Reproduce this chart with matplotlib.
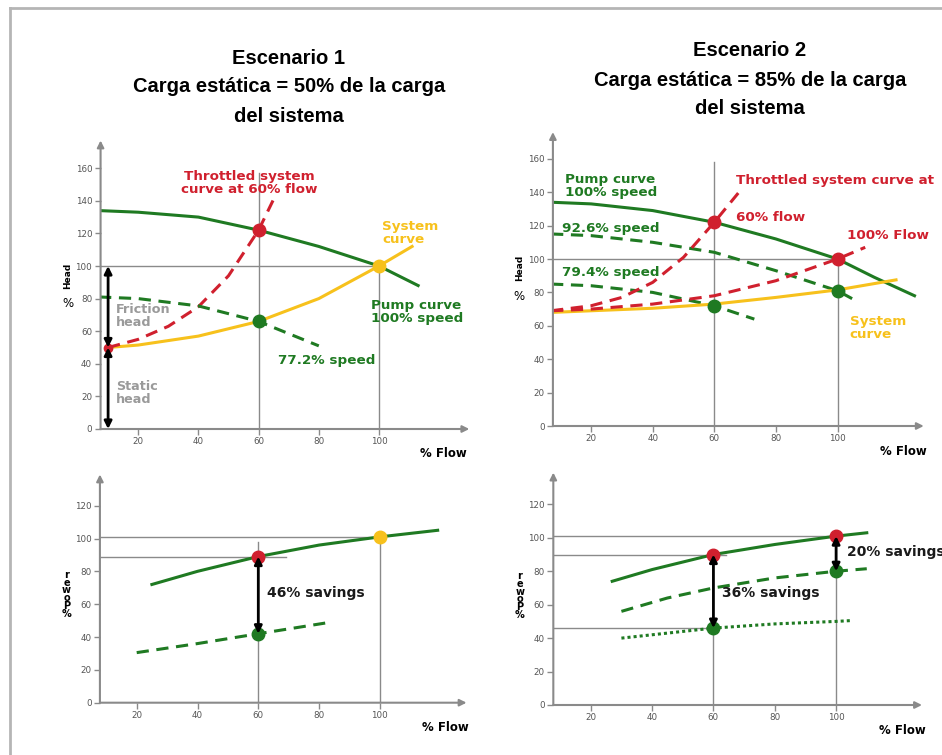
import matplotlib
matplotlib.use("Agg")
import matplotlib.pyplot as plt
from matplotlib.lines import Line2D

# ---- data ----
# Escenario 1, head vs flow
s1_pump_flow = [7, 20, 40, 60, 80, 100, 113]
s1_pump_head = [134, 133, 130, 122, 112, 100, 88]
s1_sys_flow = [10, 20, 40, 60, 80, 100, 111]
s1_sys_head = [50, 51.5, 57, 66, 80, 100, 112]
s1_thr_flow = [10, 20, 30, 40, 50, 60, 65]
s1_thr_head = [50, 55, 63, 75, 94, 122, 141]
s1_slow_flow = [7, 20, 40, 60, 80]
s1_slow_head = [81, 80, 75.5, 66, 51]

# Escenario 1, power vs flow
s1_pw_flow = [25, 40, 60, 80, 100, 119]
s1_pw_full = [72, 80, 89, 96, 101, 105]
s1_pw_slow_flow = [20, 40, 60, 82]
s1_pw_slow = [30.5, 36, 42, 48.5]

# Escenario 2, head vs flow
s2_pump_flow = [7, 20, 40, 60, 80, 100, 112, 125]
s2_pump_head = [134, 133, 129, 122, 112, 100, 89, 78]
s2_926_flow = [7, 20, 40, 60, 80, 100, 106]
s2_926_head = [115, 114, 110, 104, 93, 81, 75]
s2_794_flow = [7, 20, 40, 60, 73]
s2_794_head = [85, 84, 80, 72, 64]
s2_sys_flow = [7, 20, 40, 60, 80, 100, 119]
s2_sys_head = [68, 69, 70.5, 73, 77, 81.5, 87.5]
s2_thr60_flow = [7, 20, 30, 40, 50, 60, 68]
s2_thr60_head = [69, 72, 77, 86, 101, 122, 140]
s2_thr100_flow = [7, 20, 40, 60, 80, 100, 109]
s2_thr100_head = [69, 70, 73, 78, 87, 100, 107]

# Escenario 2, power vs flow
s2_pw_flow = [27, 40, 60, 80, 100, 110]
s2_pw_full = [74, 81, 90, 96, 101, 103]
s2_pw_926_flow = [30, 45, 60, 80, 100, 110]
s2_pw_926 = [56, 64, 70, 76, 80, 81.5]
s2_pw_794_flow = [30, 45, 60, 80, 100, 105]
s2_pw_794 = [40, 43, 46, 48.5, 50, 50.5]

x_ticks = [20, 40, 60, 80, 100]
head_ticks = [0, 20, 40, 60, 80, 100, 120, 140, 160]
power_ticks = [0, 20, 40, 60, 80, 100, 120]

title_lines_1 = ["Escenario 1", "Carga estática = 50% de la carga", "del sistema"]
title_lines_2 = ["Escenario 2", "Carga estática = 85% de la carga", "del sistema"]

GREEN = "#1f7a22"
RED = "#d0202e"
YELLOW = "#f7c11c"
GRAY = "#8a8a8a"
W, H = 942, 755

plt.rcParams["font.family"] = ["DejaVu Sans"]
fig = plt.figure(figsize=(W / 100, H / 100), dpi=100)

# light frame around the picture
fig.add_artist(Line2D([10 / W, 10 / W], [0, 1 - 8 / H], color="#b5b5b5", lw=2))
fig.add_artist(Line2D([10 / W, 1], [1 - 8 / H, 1 - 8 / H], color="#b5b5b5", lw=2))


def make_axes(x0, kx, y0, ky, xlim, ylim, yticks):
    left = x0 + kx * xlim[0]
    right = x0 + kx * xlim[1]
    bottom = y0 - ky * ylim[0]
    top = y0 - ky * ylim[1]
    ax = fig.add_axes([left / W, 1 - bottom / H, (right - left) / W, (bottom - top) / H])
    ax.set_xlim(xlim)
    ax.set_ylim(ylim)
    ax.patch.set_alpha(0)
    for s in ax.spines.values():
        s.set_visible(False)
    ax.set_xticks(x_ticks)
    ax.set_yticks(yticks)
    ax.tick_params(direction="out", length=4, width=1, color=GRAY,
                   labelsize=6.3, labelcolor="#555555", pad=2)
    arrow = dict(arrowstyle="-|>", color=GRAY, lw=1.5, mutation_scale=10,
                 shrinkA=0, shrinkB=0)
    ax.annotate("", xy=(xlim[1], 0), xytext=(xlim[0], 0), arrowprops=arrow,
                annotation_clip=False)
    ax.annotate("", xy=(xlim[0], ylim[1]), xytext=(xlim[0], 0), arrowprops=arrow,
                annotation_clip=False)
    ax.text(121.5, -15, "% Flow", fontsize=8.5, fontweight="bold", ha="center",
            va="center", clip_on=False)
    return ax


def guide(ax, xs, ys):
    ax.plot(xs, ys, color=GRAY, lw=1, zorder=1)


def dot(ax, x, y, c):
    ax.plot(x, y, "o", ms=9, color=c, zorder=5)


def double_arrow(ax, x, y1, y2):
    ax.annotate("", xy=(x, y2), xytext=(x, y1),
                arrowprops=dict(arrowstyle="<|-|>", color="black", lw=2,
                                mutation_scale=11, shrinkA=0, shrinkB=0), zorder=6)


def note(ax, x, y, s, color, size=9.7, **kw):
    ax.text(x, y, s, color=color, fontsize=size, fontweight="bold", va="center",
            linespacing=1.0, clip_on=False, **kw)


def head_label(ax, y):
    ax.text(-3.3, y + 17, "Head", rotation=90, fontsize=6.5, fontweight="bold",
            ha="center", va="center", clip_on=False)
    ax.text(-3.3, y, "%", fontsize=8.5, ha="center", va="center", clip_on=False)


def power_label(ax, y):
    ax.text(-3.1, y, "r\ne\nw\no\nP\n%", fontsize=7, fontweight="bold",
            linespacing=0.72, ha="center", va="center", clip_on=False)


dash = (0, (4, 2.5))

# ---------- Escenario 1 head ----------
ax1 = make_axes(78, 3.01, 429, 1.63, (7.5, 130), (0, 177), head_ticks)
guide(ax1, [7.5, 100], [100, 100])
guide(ax1, [60, 60], [0, 157])
guide(ax1, [100, 100], [0, 100])
ax1.plot(s1_pump_flow, s1_pump_head, color=GREEN, lw=2.2)
ax1.plot(s1_sys_flow, s1_sys_head, color=YELLOW, lw=2.2)
ax1.plot(s1_thr_flow, s1_thr_head, color=RED, lw=2.2, ls=dash)
ax1.plot(s1_slow_flow, s1_slow_head, color=GREEN, lw=2.2, ls=dash)
dot(ax1, 60, 122, RED)
dot(ax1, 60, 66, GREEN)
dot(ax1, 100, 100, YELLOW)
ax1.plot(10, 50, "o", ms=6, color=RED, zorder=5)
double_arrow(ax1, 10, 100, 50)
double_arrow(ax1, 10, 50, 0)
note(ax1, 12.6, 69.5, "Friction\nhead", "#9a9a9a", size=9.2)
note(ax1, 12.6, 22, "Static\nhead", "#9a9a9a", size=9.2)
note(ax1, 57, 151, "Throttled system\ncurve at 60% flow", RED, ha="center")
note(ax1, 101, 120, "System\ncurve", YELLOW)
note(ax1, 97.5, 71.5, "Pump curve\n100% speed", GREEN)
note(ax1, 66.5, 42, "77.2% speed", GREEN)
head_label(ax1, 77)

# ---------- Escenario 2 head ----------
ax2 = make_axes(529.5, 3.08, 426, 1.67, (7.6, 128), (0, 176), head_ticks)
guide(ax2, [7.6, 100], [100, 100])
guide(ax2, [60, 60], [0, 158])
guide(ax2, [100, 100], [0, 100])
ax2.plot(s2_pump_flow, s2_pump_head, color=GREEN, lw=2.2)
ax2.plot(s2_926_flow, s2_926_head, color=GREEN, lw=2.2, ls=dash)
ax2.plot(s2_794_flow, s2_794_head, color=GREEN, lw=2.2, ls=dash)
ax2.plot(s2_sys_flow, s2_sys_head, color=YELLOW, lw=2.2)
ax2.plot(s2_thr60_flow, s2_thr60_head, color=RED, lw=2.2, ls=dash)
ax2.plot(s2_thr100_flow, s2_thr100_head, color=RED, lw=2.2, ls=dash)
dot(ax2, 60, 122, RED)
dot(ax2, 100, 100, RED)
dot(ax2, 60, 72, GREEN)
dot(ax2, 100, 81, GREEN)
note(ax2, 11.5, 144, "Pump curve\n100% speed", GREEN)
note(ax2, 10.4, 118.5, "92.6% speed", GREEN)
note(ax2, 10.4, 92, "79.4% speed", GREEN)
note(ax2, 67, 147, "Throttled system curve at", RED)
note(ax2, 67, 125, "60% flow", RED)
note(ax2, 103, 114, "100% Flow", RED)
note(ax2, 104, 58.5, "System\ncurve", YELLOW)
head_label(ax2, 77.4)

# ---------- Escenario 1 power ----------
ax3 = make_axes(75.9, 3.04, 702.7, 1.642, (7.9, 128.5), (0, 139), power_ticks)
guide(ax3, [7.9, 100], [101, 101])
guide(ax3, [7.9, 69], [89, 89])
guide(ax3, [60, 60], [0, 98])
guide(ax3, [100, 100], [0, 101])
ax3.plot(s1_pw_flow, s1_pw_full, color=GREEN, lw=2.2)
ax3.plot(s1_pw_slow_flow, s1_pw_slow, color=GREEN, lw=2.2, ls=dash)
dot(ax3, 60, 89, RED)
dot(ax3, 60, 42, GREEN)
dot(ax3, 100, 101, YELLOW)
double_arrow(ax3, 60, 89, 42)
note(ax3, 62.8, 66.6, "46% savings", "#1a1a1a", size=10)
power_label(ax3, 66)

# ---------- Escenario 2 power ----------
ax4 = make_axes(529.4, 3.067, 705, 1.672, (7.8, 128), (0, 139), power_ticks)
guide(ax4, [7.8, 100], [101, 101])
guide(ax4, [7.8, 64], [90, 90])
guide(ax4, [7.8, 60], [46, 46])
guide(ax4, [60, 60], [0, 90])
guide(ax4, [100, 100], [0, 101])
ax4.plot(s2_pw_flow, s2_pw_full, color=GREEN, lw=2.2)
ax4.plot(s2_pw_926_flow, s2_pw_926, color=GREEN, lw=2.2, ls=dash)
ax4.plot(s2_pw_794_flow, s2_pw_794, color=GREEN, lw=2.2, ls=(0, (1, 1)))
dot(ax4, 60, 90, RED)
dot(ax4, 100, 101, RED)
dot(ax4, 60, 46, GREEN)
dot(ax4, 100, 80, GREEN)
double_arrow(ax4, 60, 90, 46)
double_arrow(ax4, 100, 101, 80)
note(ax4, 62.7, 66.8, "36% savings", "#1a1a1a", size=10)
note(ax4, 103.5, 91.7, "20% savings", "#1a1a1a", size=10)
power_label(ax4, 65.5)

# ---------- titles ----------
for lines, cx, ys in [(title_lines_1, 289, [58, 87, 116]),
                      (title_lines_2, 750, [50, 80, 108])]:
    for s, y in zip(lines, ys):
        fig.text(cx / W, 1 - y / H, s, ha="center", va="center", fontsize=14.5,
                 fontweight="bold", family=["Liberation Sans", "DejaVu Sans"])

fig.savefig("out.png", dpi=100)
